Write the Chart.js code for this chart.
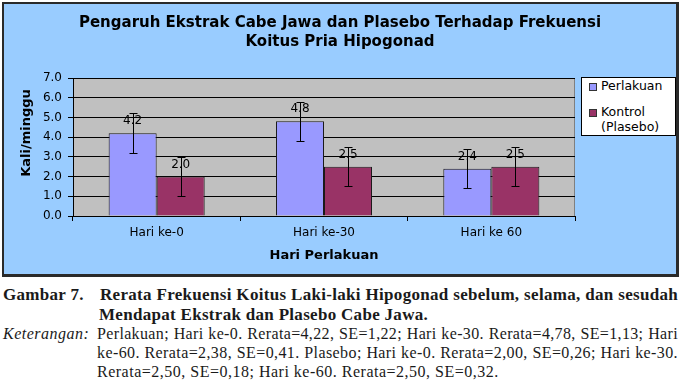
<!DOCTYPE html>
<html><head><meta charset="utf-8">
<script src="https://cdn.jsdelivr.net/npm/chart.js@4/dist/chart.umd.min.js"></script>
<style>
html,body{margin:0;padding:0;background:#fff;width:681px;height:385px;overflow:hidden;position:relative;}
#box{position:absolute;left:2px;top:2px;width:672px;height:270px;background:#99CCFF;border-style:solid;border-color:#2a2a2a;border-width:2px 3px 3px 2px;}
#box canvas{position:absolute;left:0;top:0;}
#legend{position:absolute;left:577px;top:73px;width:93px;height:57px;background:#fff;border:1px solid #000;font:12.5px 'DejaVu Sans',Verdana,sans-serif;color:#000;}
#legend .sq{position:absolute;left:7px;width:6px;height:6px;border:1px solid #333;}
#legend .t{position:absolute;left:19px;line-height:14px;white-space:nowrap;}
.cap{position:absolute;font-family:'Liberation Serif','Times New Roman',serif;font-size:16px;line-height:20px;letter-spacing:0.5px;color:#1a1a1a;white-space:nowrap;}
.b{font-weight:bold;font-size:17px;letter-spacing:0.3px;}
.i{font-style:italic;}
.j{text-align:justify;text-align-last:justify;white-space:normal;}
</style></head>
<body>
<div id="box">
  <canvas id="c" width="672" height="270"></canvas>
  <div id="legend">
    <div class="sq" style="top:5px;background:#9999FF"></div><div class="t" style="top:1px">Perlakuan</div>
    <div class="sq" style="top:31px;background:#993366"></div><div class="t" style="top:27px">Kontrol</div>
    <div class="t" style="top:42px">(Plasebo)</div>
  </div>
</div>
<div class="cap b" style="top:285px;left:3px">Gambar 7.</div>
<div class="cap b j" style="top:285px;left:100px;width:578px">Rerata Frekuensi Koitus Laki-laki Hipogonad sebelum, selama, dan sesudah</div>
<div class="cap b" style="top:305px;left:99px">Mendapat Ekstrak dan Plasebo Cabe Jawa.</div>
<div class="cap i" style="top:324px;left:3px">Keterangan:</div>
<div class="cap j" style="top:324px;left:97px;width:581px">Perlakuan; Hari ke-0. Rerata=4,22, SE=1,22; Hari ke-30. Rerata=4,78, SE=1,13; Hari</div>
<div class="cap j" style="top:343px;left:97px;width:581px">ke-60. Rerata=2,38, SE=0,41. Plasebo; Hari ke-0. Rerata=2,00, SE=0,26; Hari ke-30.</div>
<div class="cap" style="top:362px;left:97px">Rerata=2,50, SE=0,18; Hari ke-60. Rerata=2,50, SE=0,32.</div>
<script>
const categories = ['Hari ke-0', 'Hari ke-30', 'Hari ke 60'];
const seriesNames = ['Perlakuan', 'Kontrol (Plasebo)'];
const perlakuan = [4.2, 4.8, 2.4];
const kontrol = [2.0, 2.5, 2.5];
const perlakuanErr = [1.0, 1.0, 1.0];
const kontrolErr = [1.0, 1.0, 1.0];
const yMin = 0, yMax = 7, yStep = 1;
const yAxisTitle = 'Kali/minggu';
const xAxisTitle = 'Hari Perlakuan';
const chartTitle = ['Pengaruh Ekstrak Cabe Jawa dan Plasebo Terhadap Frekuensi', 'Koitus Pria Hipogonad'];

document.querySelectorAll('.j').forEach(el => {
  let ls = parseFloat(getComputedStyle(el).letterSpacing) || 0.4;
  while (el.offsetHeight > 25 && ls > -1) { ls -= 0.05; el.style.letterSpacing = ls + 'px'; }
});

const FONT = "'DejaVu Sans', Verdana, sans-serif";
Chart.defaults.font.family = FONT;
Chart.defaults.color = '#000';

const errs = [perlakuanErr, kontrolErr];
const plotBg = {
  id: 'plotBg',
  beforeDraw(chart) {
    const a = chart.chartArea, ctx = chart.ctx;
    ctx.save();
    ctx.fillStyle = '#C0C0C0';
    ctx.fillRect(a.left, a.top, a.right - a.left, a.bottom - a.top);
    ctx.strokeStyle = '#808080'; ctx.lineWidth = 1;
    ctx.beginPath(); ctx.moveTo(a.right - 0.5, a.top); ctx.lineTo(a.right - 0.5, a.bottom); ctx.stroke();
    ctx.restore();
  },
  afterDraw(chart) {
    const ctx = chart.ctx;
    ctx.save();
    ctx.translate(22.5, 129);
    ctx.rotate(-Math.PI / 2);
    ctx.fillStyle = '#000';
    ctx.font = "bold 13px " + FONT;
    ctx.textAlign = 'center'; ctx.textBaseline = 'middle';
    ctx.fillText(yAxisTitle, 0, 0);
    ctx.restore();
  }
};
const errLabels = {
  id: 'errLabels',
  afterDatasetsDraw(chart) {
    const ctx = chart.ctx, ys = chart.scales.y;
    ctx.save();
    chart.data.datasets.forEach((ds, i) => {
      const meta = chart.getDatasetMeta(i);
      meta.data.forEach((el, j) => {
        const v = ds.data[j];
        ctx.fillStyle = '#000';
        ctx.font = "12px " + FONT;
        ctx.textAlign = 'center'; ctx.textBaseline = 'middle';
        ctx.fillText(v.toFixed(1), el.x, el.y - 12);
        const e = errs[i][j];
        const hi = Math.round(ys.getPixelForValue(v + e)) + 0.5;
        const lo = Math.round(ys.getPixelForValue(v - e)) + 0.5;
        const x = Math.round(el.x) + 0.5;
        ctx.strokeStyle = '#000'; ctx.lineWidth = 1;
        ctx.beginPath();
        ctx.moveTo(x, hi); ctx.lineTo(x, lo);
        ctx.moveTo(x - 4, hi); ctx.lineTo(x + 4, hi);
        ctx.moveTo(x - 4, lo); ctx.lineTo(x + 4, lo);
        ctx.stroke();
      });
    });
    ctx.restore();
  }
};

new Chart(document.getElementById('c'), {
  type: 'bar',
  data: {
    labels: categories,
    datasets: [
      { label: seriesNames[0], data: perlakuan, backgroundColor: '#9999FF', borderColor: '#1a1a1a', borderWidth: 1, categoryPercentage: 0.574, barPercentage: 1 },
      { label: seriesNames[1], data: kontrol, backgroundColor: '#993366', borderColor: '#1a1a1a', borderWidth: 1, categoryPercentage: 0.574, barPercentage: 1 }
    ]
  },
  options: {
    responsive: false, animation: false, devicePixelRatio: 1,
    layout: { padding: { left: 0, right: 0, top: 0, bottom: 7 } },
    plugins: {
      legend: { display: false }, tooltip: { enabled: false },
      title: { display: true, text: chartTitle,
        color: '#000', font: { size: 15, weight: 'bold', lineHeight: 1.27 }, padding: { top: 9.5, bottom: 26.4 } }
    },
    scales: {
      x: {
        grid: { offset: true, drawOnChartArea: false, drawTicks: true, tickLength: 5, color: '#000' },
        border: { color: '#000' },
        ticks: { color: '#000', font: { size: 12 }, padding: 5 },
        title: { display: true, text: xAxisTitle, color: '#000', font: { size: 13, weight: 'bold' }, padding: { top: 4, bottom: 4 } },
        afterFit: s => { s.height = 51; }
      },
      y: {
        min: yMin, max: yMax,
        ticks: { stepSize: yStep, color: '#000', font: { size: 12 }, padding: 6, callback: v => Number(v).toFixed(1) },
        grid: { color: '#000', tickLength: 5 },
        border: { color: '#000' },
        title: { display: false },
        afterFit: s => { s.width = 69; }
      },
      pad: {
        type: 'linear', position: 'right', display: true,
        grid: { display: false }, border: { display: false }, ticks: { display: false },
        afterFit: s => { s.width = 101; }
      }
    }
  },
  plugins: [plotBg, errLabels]
});
</script>
</body></html>
